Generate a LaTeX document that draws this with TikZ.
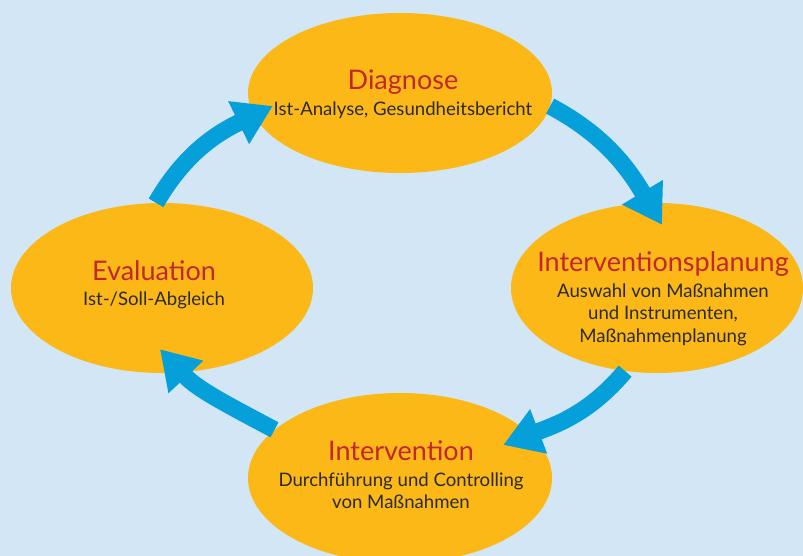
\documentclass[tikz,border=0pt]{standalone}
\usepackage{fontspec}
\setmainfont{Lato}
\usepackage{xcolor}
\definecolor{d2e6f6}{HTML}{D2E6F6}
\definecolor{fbb817}{HTML}{FBB817}
\definecolor{059fda}{HTML}{059FDA}
\definecolor{c3262e}{HTML}{C3262E}
\definecolor{2b2b2b}{HTML}{2B2B2B}
\usepackage{tikz}
\usetikzlibrary{shapes.geometric, arrows.meta, calc}

\tikzset{
    stage/.style={ellipse, fill=fbb817, inner sep=0pt},
    stagetext/.style={align=center, text=2b2b2b, font=\fontsize{18.6}{22.5}\selectfont},
    flow/.style={draw=059fda, line width=17pt, -{Triangle[length=38pt, width=45pt]}}
}
\newcommand{\stagetitle}[1]{{\color{c3262e}\fontsize{27}{22}\selectfont #1}\\[3pt]}

\begin{document}
\begin{tikzpicture}[x=1pt, y=-1pt]
                        \useasboundingbox (0, 0) rectangle (803, 556);
                        \clip (0, 0) rectangle (803, 556);
                        \fill[d2e6f6] (0, 0) rectangle (803, 556);

                        \node (0) at (400, 93) [stage, minimum width=304pt, minimum height=160pt] {};
                        \node (1) at (657, 288) [stage, minimum width=292pt, minimum height=170pt] {};
                        \node (2) at (400, 478) [stage, minimum width=304pt, minimum height=170pt] {};
                        \node (3) at (162, 288) [stage, minimum width=302pt, minimum height=170pt] {};

                        \node (4) at (403, 94) [stagetext] {\stagetitle{Diagnose}Ist-Analyse, Gesundheitsbericht};
                        \node (5) at (663, 299) [stagetext] {\stagetitle{Interventionsplanung}Auswahl von Maßnahmen\\und Instrumenten,\\Maßnahmenplanung};
                        \node (6) at (401, 475) [stagetext] {\stagetitle{Intervention}Durchführung und Controlling\\von Maßnahmen};
                        \node (7) at (154, 285) [stagetext] {\stagetitle{Evaluation}Ist-/Soll-Abgleich};

                        \draw[flow] (0.-5) to [out=-28, in=121] ($(1.north)+(5, 22)$);
                        \draw[flow] (1.-111) to [out=-130, in=21] ($(2.east)+(-49, -33)$);
                        \draw[flow] (2.159) to [out=152, in=-47] ($(3.south)+(-2, -24)$);
                        \draw[flow] (3.94) to [out=60, in=-154] ($(0.west)+(25, 13)$);
                    \end{tikzpicture}
\end{document}
